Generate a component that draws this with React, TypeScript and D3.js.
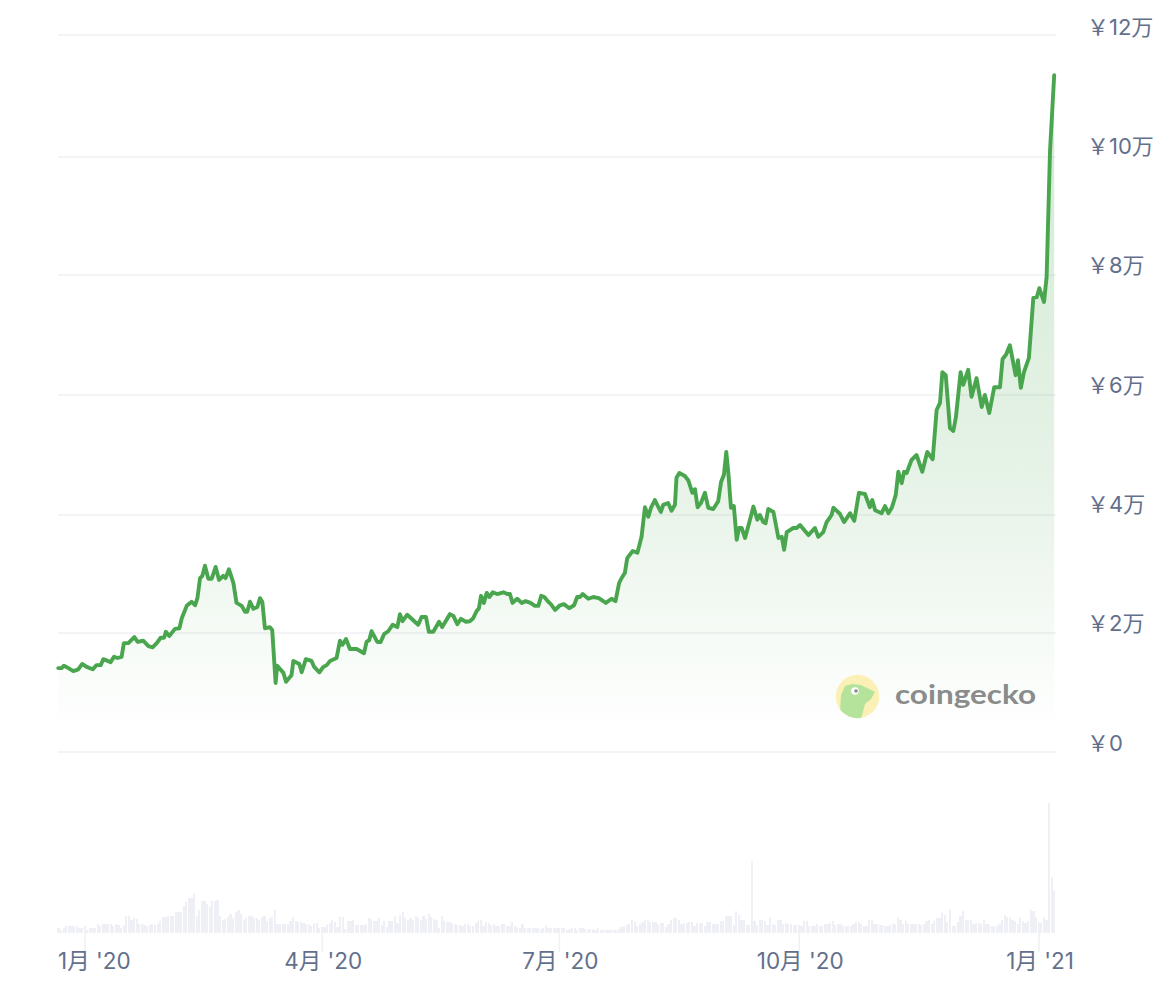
import * as d3 from "d3";

const W = 1170;
const H = 996;
const PLOT_L = 58;
const PLOT_R = 1056;
const VOL_BASE = 933;
const VOL_TOP = 803;
const GRID = "#f0f1f5";
const TEXT = "#63708c";
const GREEN = "#4aa64e";
const FONT = "Inter, 'Noto Sans CJK SC', sans-serif";

// first sample of both series, Dec 21 2019 afternoon
const START = new Date(2019, 11, 21, 15);

const yTickValues = [0, 2, 4, 6, 8, 10, 12];
// gridlines in the picture are not perfectly even
const yTickPixels = [752, 633, 515, 395, 275, 157, 35];
const yTickLabels = ["¥0", "¥2万", "¥4万", "¥6万", "¥8万", "¥10万", "¥12万"];

const monthTicks = [
	new Date(2020, 0, 1),
	new Date(2020, 3, 1),
	new Date(2020, 6, 1),
	new Date(2020, 9, 1),
	new Date(2021, 0, 1),
];
const monthLabels = ["1月 '20", "4月 '20", "7月 '20", "10月 '20", "1月 '21"];

// days since START, read at the turning points of the line
const priceDays = [
	0.1, 1.4, 2.3, 4, 5.9, 7.8, 9.3, 11, 13.3, 14.8, 16.4, 17.4, 20.2, 21.5, 22.8, 24.4, 25.3, 27, 29.3, 30.6,
	32.7, 34.7, 36.3, 37.9, 39.4, 40.7, 41.4, 42.7, 44.9, 46.6, 47.5, 49.4, 51.3, 52.6, 53.5, 54.5, 55.4, 56.4, 57.7, 59,
	60.5, 61.8, 63.4, 64.3, 65.6, 67.3, 68.5, 70.5, 71.8, 72.6, 73.7, 75, 76.5, 77.5, 78.4, 79.4, 81.3, 82.2, 83.5, 84.1,
	86.5, 87.5, 89.6, 90.3, 92.6, 93.5, 95.1, 97.3, 98.3, 100.3, 101.8, 103.1, 104.4, 106.9, 108.2, 109.1, 110.5, 112, 114.6, 117.4,
	118.4, 119.4, 120.3, 122.5, 123.8, 125.1, 126.7, 128.4, 130.2, 131.2, 132.2, 134, 138.2, 139.5, 141.2, 142.3, 144, 146.2, 147.4, 150.4,
	151.7, 153.2, 154.6, 156.5, 158, 159.3, 160.6, 161.5, 162.3, 163.4, 164.5, 165.5, 166.8, 168.5, 170.9, 172.4, 173.4, 174.4, 176.2, 177.9,
	179.4, 181.3, 183, 184.3, 185.4, 186.6, 188.1, 189.1, 190.7, 192.6, 194.1, 196.2, 198, 199.2, 200.3, 201.3, 203.5, 205.4, 207.5, 210.2,
	212.4, 213.9, 215.3, 216.5, 217.5, 218.4, 220.5, 222.3, 223.9, 225.2, 226.5, 227.5, 229, 231.3, 232.2, 234.1, 235.4, 236.7, 237.3, 238.4,
	240.5, 241.8, 243.4, 244.4, 245.4, 246.7, 248.2, 249.5, 251.4, 253.3, 254.4, 255.5, 256.4, 257.2, 258.2, 259.3, 260.4, 261.3, 262.3, 263.6,
	265.5, 266.8, 268.3, 269.3, 270.6, 271.5, 272.5, 274.5, 276.4, 277.7, 278.6, 279.6, 282.1, 283.4, 284.7, 287.9, 290.4, 291.7, 293.6, 294.9,
	296.8, 297.5, 300, 301.6, 303.9, 305.5, 307.3, 309.6, 311.5, 312.4, 313.5, 316, 317.3, 318.6, 319.9, 321.4, 322.4, 323.7, 324.6, 325.6,
	327.5, 329.4, 331.6, 333.5, 335.6, 337.1, 338.4, 339.3, 340.6, 342.2, 343.5, 344.5, 346.3, 347.3, 349.2, 350.5, 352.4, 354.4, 355.6, 357.3,
	359.2, 361.4, 362.4, 363.7, 365.2, 367.4, 368.3, 369.4, 370.6, 372.5, 374.2, 375.5, 376.5, 378.3, 379.3, 380.6, 382.2,
];
// price at those days, in units of 万 yen
const priceValues = [
	1.41, 1.41, 1.45, 1.41, 1.36, 1.39, 1.48, 1.43, 1.39, 1.46, 1.46, 1.56, 1.51, 1.6, 1.58, 1.6, 1.83, 1.83, 1.93, 1.85,
	1.87, 1.78, 1.76, 1.83, 1.92, 1.92, 2.02, 1.95, 2.07, 2.08, 2.25, 2.46, 2.53, 2.47, 2.59, 2.93, 2.97, 3.14, 2.92, 2.92,
	3.12, 2.9, 2.97, 2.93, 3.08, 2.85, 2.51, 2.46, 2.36, 2.36, 2.53, 2.41, 2.44, 2.59, 2.53, 2.08, 2.1, 2.05, 1.16, 1.45,
	1.33, 1.18, 1.29, 1.53, 1.48, 1.34, 1.56, 1.53, 1.43, 1.34, 1.43, 1.46, 1.53, 1.58, 1.87, 1.8, 1.9, 1.73, 1.73, 1.66,
	1.85, 1.88, 2.03, 1.85, 1.85, 1.98, 2.03, 2.14, 2.1, 2.32, 2.2, 2.31, 2.14, 2.27, 2.27, 2.02, 2.02, 2.19, 2.1, 2.32,
	2.29, 2.15, 2.24, 2.19, 2.2, 2.25, 2.37, 2.42, 2.63, 2.51, 2.68, 2.61, 2.69, 2.66, 2.69, 2.66, 2.66, 2.51, 2.58, 2.51,
	2.54, 2.51, 2.46, 2.46, 2.63, 2.61, 2.53, 2.49, 2.39, 2.47, 2.49, 2.42, 2.47, 2.61, 2.61, 2.66, 2.58, 2.61, 2.59, 2.51,
	2.58, 2.54, 2.85, 2.95, 3.02, 3.27, 3.39, 3.36, 3.63, 4.13, 3.97, 4.12, 4.25, 4.05, 4.17, 4.2, 4.07, 4.17, 4.62, 4.7,
	4.65, 4.58, 4.37, 4.43, 4.13, 4.2, 4.37, 4.12, 4.1, 4.23, 4.55, 4.67, 5.05, 4.7, 4.12, 4.15, 3.58, 3.78, 3.78, 3.61,
	3.92, 4.14, 3.92, 4, 3.88, 3.86, 4.1, 4.05, 3.61, 3.63, 3.41, 3.71, 3.78, 3.78, 3.83, 3.66, 3.78, 3.63, 3.71, 3.88,
	4, 4.12, 4.02, 3.88, 4.03, 3.9, 4.37, 4.35, 4.13, 4.25, 4.08, 4.03, 4.15, 4.03, 4.12, 4.33, 4.72, 4.53, 4.72, 4.7,
	4.92, 5, 4.72, 5.05, 4.93, 5.75, 5.87, 6.38, 6.33, 5.45, 5.4, 5.63, 6.38, 6.17, 6.42, 5.97, 6.28, 5.8, 6, 5.7,
	6.13, 6.13, 6.6, 6.67, 6.83, 6.33, 6.58, 6.12, 6.38, 6.62, 7.62, 7.63, 7.78, 7.55, 7.97, 10.1, 11.34,
];

// daily volume, relative units
const volumeValues = [
	5, 3, 5, 7, 7, 7, 7, 7, 5, 5,
	7, 3, 5, 5, 5, 9, 7, 9, 9, 9,
	9, 7, 9, 8, 5, 7, 17, 17, 13, 15,
	14, 9, 9, 8, 7, 8, 9, 8, 9, 12,
	16, 16, 17, 17, 17, 21, 21, 21, 27, 31,
	35, 35, 39, 17, 23, 32, 32, 29, 27, 32,
	32, 33, 17, 13, 14, 16, 19, 15, 21, 23,
	19, 13, 15, 17, 17, 15, 15, 13, 16, 17,
	12, 15, 16, 23, 9, 9, 9, 9, 9, 12,
	16, 12, 11, 11, 10, 9, 9, 7, 10, 10,
	5, 6, 6, 8, 10, 13, 11, 6, 16, 16,
	4, 12, 12, 13, 8, 8, 8, 8, 9, 15,
	14, 12, 12, 15, 8, 12, 6, 12, 12, 17,
	10, 18, 21, 15, 13, 15, 13, 17, 15, 13,
	17, 14, 19, 16, 14, 13, 5, 17, 12, 11,
	11, 10, 9, 8, 8, 7, 9, 9, 7, 7,
	10, 12, 13, 7, 11, 10, 8, 9, 7, 7,
	9, 9, 7, 7, 11, 7, 6, 5, 9, 5,
	5, 5, 5, 5, 5, 4, 5, 7, 5, 5,
	5, 5, 5, 5, 5, 3, 4, 5, 5, 3,
	5, 5, 4, 3, 4, 4, 3, 5, 3, 3,
	3, 3, 3, 3, 3, 4, 6, 7, 8, 9,
	13, 11, 7, 9, 11, 13, 13, 11, 11, 11,
	9, 10, 10, 6, 9, 13, 15, 15, 13, 9,
	10, 10, 11, 11, 7, 10, 10, 10, 7, 11,
	11, 9, 9, 9, 12, 12, 17, 17, 17, 8,
	22, 18, 13, 13, 8, 8, 72, 12, 8, 13,
	13, 12, 8, 15, 9, 8, 13, 13, 9, 10,
	9, 9, 8, 8, 8, 7, 12, 12, 7, 7,
	7, 9, 7, 7, 9, 9, 10, 12, 8, 9,
	9, 7, 7, 7, 7, 9, 11, 11, 9, 7,
	7, 13, 13, 9, 9, 8, 8, 7, 7, 8,
	9, 9, 15, 13, 9, 12, 9, 9, 9, 9,
	9, 8, 9, 12, 13, 9, 12, 15, 15, 20,
	18, 11, 23, 7, 7, 11, 17, 22, 13, 13,
	13, 9, 10, 10, 9, 13, 9, 9, 7, 7,
	7, 9, 13, 18, 16, 15, 13, 12, 9, 15,
	12, 10, 12, 23, 22, 16, 11, 10, 16, 13,
	130, 56, 43,
];

const atDay = (d: number) => new Date(START.getTime() + d * 864e5);

export default function App() {
	const x = d3
		.scaleTime()
		.domain([monthTicks[0], monthTicks[4]])
		.range([85, 1039]);
	const y = d3.scaleLinear().domain(yTickValues).range(yTickPixels);
	// labels sit on an even spacing, unlike the gridlines
	const yLabel = d3.scaleLinear().domain([0, 12]).range([750.5, 34.5]);
	const yVol = d3.scaleLinear().domain([0, 130]).range([VOL_BASE, VOL_TOP]);

	const points = priceValues.map((v, i) => ({ day: priceDays[i], v }));
	const lineGen = d3
		.line<{ day: number; v: number }>()
		.x((d) => x(atDay(d.day)))
		.y((d) => y(d.v));
	const areaGen = d3
		.area<{ day: number; v: number }>()
		.x((d) => x(atDay(d.day)))
		.y0(y(0))
		.y1((d) => y(d.v));

	return (
		<svg
			width={W}
			height={H}
			viewBox={`0 0 ${W} ${H}`}
			style={{ position: "absolute", left: 0, top: 0, background: "#fff" }}
			fontFamily={FONT}
		>
			<defs>
				<linearGradient id="priceFill" gradientUnits="userSpaceOnUse" x1="0" y1="75" x2="0" y2="735">
					<stop offset="0" stopColor={GREEN} stopOpacity={0.25} />
					<stop offset="0.6" stopColor={GREEN} stopOpacity={0.14} />
					<stop offset="1" stopColor={GREEN} stopOpacity={0} />
				</linearGradient>
				<clipPath id="logoClip">
					<circle cx={857.5} cy={696.5} r={21.7} />
				</clipPath>
			</defs>

			{yTickValues.map((t, i) => (
				<g key={t}>
					<line x1={PLOT_L} x2={PLOT_R} y1={y(t)} y2={y(t)} stroke={GRID} strokeWidth={1.5} />
					<text x={1087} y={yLabel(t)} fontSize={22} fill={TEXT}>
						{"\uFFE5" + yTickLabels[i].slice(1)}
					</text>
				</g>
			))}

			<path d={areaGen(points) ?? ""} fill="url(#priceFill)" />

			{/* logo */}
			<circle cx={857.5} cy={696.5} r={21.7} fill="#fbf0b5" />
			<path
				d="M840 712 L841 695 L845 686 L852 684 L861 685 L875 692 L871 699 L865 704 L861 719 L842 719 Z"
				fill="#b6e39c"
				clipPath="url(#logoClip)"
			/>
			<circle cx={855} cy={691} r={3.8} fill="#fff" />
			<circle cx={856} cy={691} r={1.8} fill="#8a8c8c" />
			<text x={895} y={704} fontFamily="Lato, sans-serif" fontWeight={700} fontSize={27} fill="#8a8c8c" textLength={141} lengthAdjust="spacingAndGlyphs">
				coingecko
			</text>

			<path
				d={lineGen(points) ?? ""}
				fill="none"
				stroke={GREEN}
				strokeWidth={3.9}
				strokeLinejoin="round"
				strokeLinecap="round"
			/>

			{volumeValues.map((v, i) => (
				<rect
					key={i}
					x={x(atDay(i)) - 0.5}
					y={yVol(v)}
					width={2.2}
					height={VOL_BASE - yVol(v)}
					fill="#eff0f5"
					shapeRendering="crispEdges"
				/>
			))}

			{monthTicks.map((t, i) => (
				<g key={monthLabels[i]}>
					<line x1={x(t)} x2={x(t)} y1={VOL_BASE} y2={952} stroke={GRID} strokeWidth={1.5} />
					<text
						x={i === 0 ? PLOT_L : x(t) + 1}
						y={969}
						fontSize={22.5}
						fill={TEXT}
						textAnchor={i === 0 ? "start" : "middle"}
					>
						{monthLabels[i]}
					</text>
				</g>
			))}
		</svg>
	);
}
